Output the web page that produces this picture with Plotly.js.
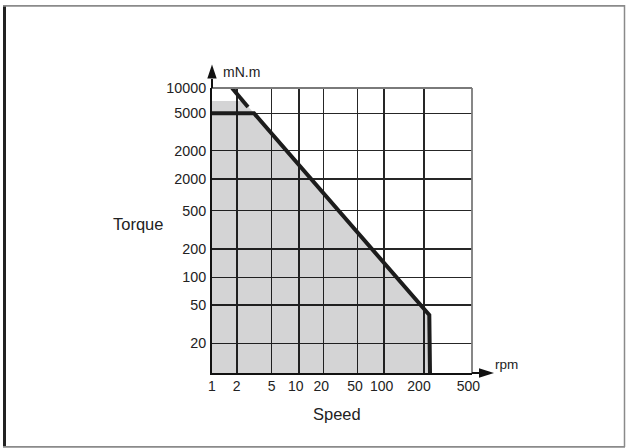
<!DOCTYPE html>
<html>
<head>
<meta charset="utf-8">
<script src="https://cdn.plot.ly/plotly-3.0.1.min.js"></script>
<style>
  html, body { margin: 0; padding: 0; background: #ffffff; }
  #chart { width: 628px; height: 448px; }
</style>
</head>
<body>
<div id="chart"></div>
<script>
// Hand-drawn grid: positions of each grid line along the axes (chart units), and their labels
const xGridPos = [0, 25, 59.7, 87, 111.3, 145.3, 172, 212, 260];
const xLabelPos = [0, 24.7, 59.7, 83.8, 109.3, 143, 169.7, 207, 256.3];
const xTickText = ['1', '2', '5', '10', '20', '50', '100', '200', '500'];
const yTickPos = [29.7, 68, 95.7, 124, 162.3, 194, 222.5, 259.7, 285];
const yTickText = ['20', '50', '100', '200', '500', '2000', '2000', '5000', '10000'];

// Rated (continuous) torque curve
const ratedX = [0, 42, 217.3, 218];
const ratedY = [259.7, 259.7, 58, 0];

// Peak torque extension (dashed segment)
const peakX = [20, 36];
const peakY = [285, 266];

// Operating area (grey)
const areaX = [0, 0, 31.5, 42, 217.3, 218, 0];
const areaY = [0, 272, 272, 259.7, 58, 0, 0];

const xMax = 260, yMax = 285;
const L = 212, T = 88, W = 260, H = 285;
function px(x) { return (x - L) / W; }
function py(y) { return (T + H - y) / H; }

const traces = [
  { x: areaX, y: areaY, mode: 'lines', fill: 'toself', fillcolor: 'rgba(0,0,8,0.17)',
    line: { width: 0, color: 'rgba(0,0,0,0)' }, hoverinfo: 'skip', showlegend: false },
  { x: ratedX, y: ratedY, mode: 'lines', line: { color: '#1c1c1c', width: 4 },
    hoverinfo: 'skip', showlegend: false },
  { x: peakX, y: peakY, xaxis: 'x2', mode: 'lines', line: { color: '#1c1c1c', width: 4 },
    hoverinfo: 'skip', showlegend: false }
];

const family = '"Liberation Sans", Arial, sans-serif';
const font = { family: family, size: 14, color: '#222222' };

const layout = {
  width: 628, height: 448,
  margin: { l: L, r: 628 - L - W, t: T, b: 448 - T - H, pad: 0 },
  paper_bgcolor: '#ffffff', plot_bgcolor: '#ffffff',
  font: font,
  showlegend: false,
  xaxis: {
    range: [0, xMax], fixedrange: true,
    tickmode: 'array', tickvals: xGridPos, ticktext: xTickText,
    showticklabels: false,
    showgrid: true, gridcolor: '#262626', gridwidth: 1.2,
    zeroline: false, showline: true, linecolor: '#111111', linewidth: 2,
    ticks: ''
  },
  xaxis2: {
    overlaying: 'x', side: 'bottom', anchor: 'y',
    range: [0, xMax], fixedrange: true,
    tickmode: 'array', tickvals: xLabelPos, ticktext: xTickText,
    showgrid: false, zeroline: false, showline: false,
    ticks: '', ticklabelstandoff: 3, tickfont: font
  },
  yaxis: {
    range: [0, yMax], fixedrange: true,
    tickmode: 'array', tickvals: yTickPos, ticktext: yTickText,
    showgrid: true, gridcolor: '#262626', gridwidth: 1.2,
    zeroline: false, showline: true, linecolor: '#111111', linewidth: 2,
    ticks: '', ticklabelstandoff: 1, tickfont: { family: family, size: 14.3, color: '#222222' }
  },
  shapes: [
    // grey top and right edges of the grid
    { type: 'line', xref: 'paper', yref: 'paper', x0: 0, x1: 1, y0: 1, y1: 1,
      line: { color: '#7a7a7a', width: 1.8 }, layer: 'above' },
    { type: 'line', xref: 'paper', yref: 'paper', x0: 1, x1: 1, y0: 0, y1: 1,
      line: { color: '#7a7a7a', width: 1.8 }, layer: 'above' },
    // axis extensions and arrows
    { type: 'line', xref: 'paper', yref: 'paper', x0: 0, x1: 0, y0: 1, y1: py(79),
      line: { color: '#111111', width: 2 } },
    { type: 'path', xref: 'paper', yref: 'paper',
      path: 'M ' + px(207.3) + ' ' + py(78.5) + ' L ' + px(216.7) + ' ' + py(78.5) + ' L ' + px(212) + ' ' + py(64.5) + ' Z',
      fillcolor: '#111111', line: { width: 0 } },
    { type: 'line', xref: 'paper', yref: 'paper', x0: 1, x1: px(480), y0: 0, y1: 0,
      line: { color: '#111111', width: 2 } },
    { type: 'path', xref: 'paper', yref: 'paper',
      path: 'M ' + px(479) + ' ' + py(368.3) + ' L ' + px(479) + ' ' + py(377.7) + ' L ' + px(494) + ' ' + py(373) + ' Z',
      fillcolor: '#111111', line: { width: 0 } },
    // outer frame
    { type: 'line', xref: 'paper', yref: 'paper', x0: px(4.5), x1: px(4.5), y0: py(5), y1: py(447),
      line: { color: '#222222', width: 3 } },
    { type: 'line', xref: 'paper', yref: 'paper', x0: px(3), x1: px(625), y0: py(5.8), y1: py(5.8),
      line: { color: '#8a8a8a', width: 1.8 } },
    { type: 'line', xref: 'paper', yref: 'paper', x0: px(3), x1: px(625), y0: py(446.8), y1: py(446.8),
      line: { color: '#8a8a8a', width: 1.8 } },
    { type: 'line', xref: 'paper', yref: 'paper', x0: px(624.5), x1: px(624.5), y0: py(5), y1: py(447),
      line: { color: '#8a8a8a', width: 1.5 } }
  ],
  annotations: [
    { text: 'mN.m', xref: 'paper', yref: 'paper', x: px(221), y: py(72), xanchor: 'left', yanchor: 'middle',
      showarrow: false, font: { family: family, size: 14, color: '#222222' } },
    { text: 'rpm', xref: 'paper', yref: 'paper', x: px(493), y: py(364), xanchor: 'left', yanchor: 'middle',
      showarrow: false, font: { family: family, size: 13.5, color: '#222222' } },
    { text: 'Torque', xref: 'paper', yref: 'paper', x: px(138), y: py(224.3), xanchor: 'center', yanchor: 'middle',
      showarrow: false, font: { family: family, size: 16.5, color: '#222222' } },
    { text: 'Speed', xref: 'paper', yref: 'paper', x: px(336.7), y: py(414.3), xanchor: 'center', yanchor: 'middle',
      showarrow: false, font: { family: family, size: 16.5, color: '#222222' } }
  ]
};

Plotly.newPlot('chart', traces, layout, { displayModeBar: false, staticPlot: true });
</script>
</body>
</html>
